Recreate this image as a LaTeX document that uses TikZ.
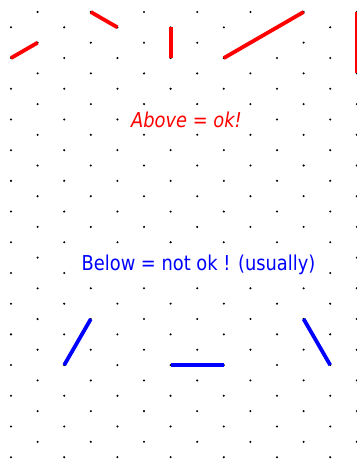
\documentclass[tikz,border=0pt]{standalone}
\usepackage{fontspec}
\setmainfont{DejaVu Sans}
\usepackage{graphicx}
\begin{document}
\begin{tikzpicture}[x=1pt,y=-1pt,
  dot/.style={fill=black},
  okline/.style={draw=red, line width=3.8pt},
  badline/.style={draw=blue, line width=3.8pt},
  lbl/.style={inner sep=1pt, fill=white, anchor=base, font=\fontsize{20.5}{24}\selectfont}]
\useasboundingbox[fill=white] (0,0) rectangle (356,468);
% triangular lattice of dots
\foreach \c in {0,...,13}{
  \pgfmathsetmacro\xx{11+26.6*\c}
  \pgfmathsetmacro\yy{mod(\c,2)==1 ? 12 : 27.35}
  \foreach \k in {0,...,14}{
    \fill[dot] (\xx,\yy+30.7*\k) circle[radius=1.15pt];
  }
}
% end points
\coordinate (r1a) at (11,58.05);    \coordinate (r1b) at (37.6,42.7);
\coordinate (r2a) at (90.8,12);     \coordinate (r2b) at (117.4,27.35);
\coordinate (r3a) at (170.6,27.35); \coordinate (r3b) at (170.6,58.05);
\coordinate (r4a) at (223.8,58.05); \coordinate (r4b) at (303.6,12);
\coordinate (r5a) at (356.8,12);    \coordinate (r5b) at (356.8,73.4);
\coordinate (b1a) at (64.2,365.05); \coordinate (b1b) at (90.8,319);
\coordinate (b2a) at (170.6,365.05);\coordinate (b2b) at (223.8,365.05);
\coordinate (b3a) at (303.6,319);   \coordinate (b3b) at (330.2,365.05);
% allowed segments
\draw[okline] (r1a) -- (r1b);
\draw[okline] (r2a) -- (r2b);
\draw[okline] (r3a) -- (r3b);
\draw[okline] (r4a) -- (r4b);
\draw[okline] (r5a) -- (r5b);
% not allowed segments
\draw[badline] (b1a) -- (b1b);
\draw[badline] (b2a) -- (b2b);
\draw[badline] (b3a) -- (b3b);
% labels
\node[lbl, text=red] (above) at (186.5,128) {\scalebox{0.87}[1]{\itshape Above = ok!}};
\node[lbl, text=blue] (below) at (198.5,270) {\scalebox{0.87}[1]{Below = not ok ! (usually)}};
\end{tikzpicture}
\end{document}
